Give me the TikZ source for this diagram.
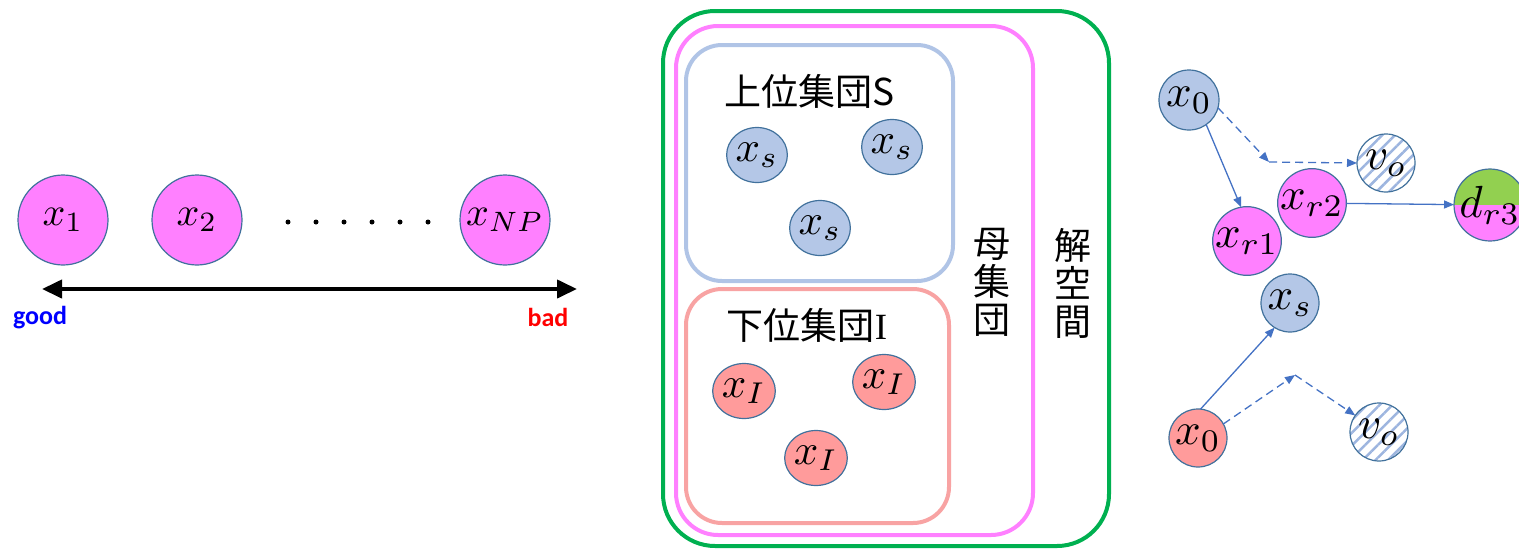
\documentclass[tikz,border=0pt]{standalone}
\usepackage{graphicx}
\usepackage{fontspec}
\newfontfamily\cjkfont{Noto Sans CJK JP}
\newfontfamily\tagfont{Carlito}
\newfontfamily\romanI{Liberation Serif}
\usetikzlibrary{arrows.meta,shapes.geometric,patterns.meta}
\definecolor{popfill}{HTML}{FF80FF}
\definecolor{supfill}{HTML}{B4C7E7}
\definecolor{inffill}{HTML}{FF9B9B}
\definecolor{rim}{HTML}{41719C}
\definecolor{spacegreen}{HTML}{00B050}
\definecolor{supframe}{HTML}{B0C4E6}
\definecolor{infframe}{HTML}{F8A3A3}
\definecolor{flow}{HTML}{4472C4}
\definecolor{hatch}{HTML}{9DB5DF}
\definecolor{trialgreen}{HTML}{92D050}
\definecolor{goodblue}{HTML}{0000FF}
\definecolor{badred}{HTML}{FF0000}
% large math labels inside the individuals
\newcommand{\biglab}[1]{\scalebox{4.0}{$#1$}}
\newcommand{\grplab}[1]{\scalebox{4.3}{$#1$}}
\newcommand{\oplab}[1]{\scalebox{4.5}{$#1$}}
\begin{document}
\begin{tikzpicture}[x=1pt,y=-1pt,
  ind/.style={circle,draw=rim,line width=1.2pt,inner sep=0pt,outer sep=0pt},
  big/.style={ind,minimum size=90pt,fill=popfill},
  small/.style={ellipse,draw=rim,line width=1.2pt,inner sep=0pt,outer sep=0pt,
    minimum width=60pt,minimum height=55pt},
  supind/.style={small,fill=supfill},
  infind/.style={small,fill=inffill},
  dot/.style={circle,fill=black,inner sep=0pt,minimum size=5pt},
  frame/.style={line width=4pt},
  cjk/.style={font=\cjkfont\fontsize{37}{38}\selectfont,align=center,inner sep=0pt},
  flowarrow/.style={draw=flow,line width=1.3pt,-{Triangle[length=10pt,width=8pt]}},
  trial/.style={flowarrow,dash pattern=on 8pt off 5pt},
  mutant/.style={circle,draw=rim,line width=1.2pt,inner sep=0pt,outer sep=0pt,
    minimum size=58pt},
  hatched/.style={mutant,pattern={Lines[angle=45,distance=9pt,line width=2.5pt]},pattern color=hatch},
  tag/.style={font=\tagfont\bfseries\fontsize{26}{30}\selectfont,inner sep=0pt}
]
\useasboundingbox (0,0) rectangle (1519,550);

% ---- population ranked from good to bad ----
\node[big] (p1) at (63,220) {\biglab{x_1}};
\node[big] (p2) at (197,220) {\biglab{x_2}};
\node[big] (pn) at (505,220) {\biglab{x_{NP}}};
\foreach \i in {0,...,5}
  \node[dot] (d\i) at (288+28*\i,222) {};
\coordinate (rankL) at (42,289);
\coordinate (rankR) at (577,289);
\draw[line width=4pt,{Triangle[length=20pt,width=18pt]}-{Triangle[length=20pt,width=18pt]}]
  (rankL) -- (rankR);
\node[tag,text=goodblue] (good) at (40,318) {good};
\node[tag,text=badred] (bad) at (548,317) {bad};

% ---- solution space, population, upper and lower groups ----
\draw[frame,draw=spacegreen,rounded corners=52pt] (663,11) rectangle (1109,546);
\draw[frame,draw=popfill,rounded corners=42pt] (676,26) rectangle (1033,535);
\draw[frame,draw=supframe,rounded corners=36pt] (686,45) rectangle (953,281);
\draw[frame,draw=infframe,rounded corners=36pt] (686,289) rectangle (949,523);

\node[cjk] (suplab) at (810,91) {上位集団S};
\node[cjk] (inflab) at (807,325) {下位集団{\romanI I}};
\node[cjk] (poplab) at (992,282) {母\\集\\団};
\node[cjk] (spacelab) at (1073,283) {解\\空\\間};

\node[supind] (s1) at (757,155) {\grplab{x_s}};
\node[supind] (s2) at (892,147) {\grplab{x_s}};
\node[supind] (s3) at (820,228) {\grplab{x_s}};
\node[infind] (i1) at (744,391) {\grplab{x_I}};
\node[infind] (i2) at (884,382) {\grplab{x_I}};
\node[infind] (i3) at (816,458) {\grplab{x_I}};

% ---- mutation from an upper-group base ----
\node[mutant,fill=supfill,minimum size=60pt] (u0) at (1189,100) {\oplab{x_0}};
\node[hatched] (uv) at (1386,163) {\oplab{v_o}};
\node[mutant,fill=popfill,minimum size=64pt] (r1) at (1247,241) {\oplab{x_{r1}}};
\node[mutant,fill=popfill,minimum size=66pt] (r2) at (1312,203) {\oplab{x_{r2}}};
\node[mutant,minimum size=68pt,
  path picture={
    \fill[trialgreen] (path picture bounding box.north west) rectangle (path picture bounding box.east);
    \fill[popfill] (path picture bounding box.west) rectangle (path picture bounding box.south east);
  }] (r3) at (1490,205) {\oplab{d_{r3}}};
\coordinate (k1) at (1269,162);
\draw[flowarrow] (u0.-55) -- (r1.100);
\draw[trial] (u0.-15) -- (k1);
\draw[trial] (k1) -- (uv.west);
\draw[flowarrow] (r2) -- (r3);

% ---- mutation from a lower-group base ----
\node[mutant,fill=supfill] (ls) at (1290,303) {\oplab{x_s}};
\node[mutant,fill=inffill] (l0) at (1198,438) {\oplab{x_0}};
\node[hatched] (lv) at (1379,432) {\oplab{v_o}};
\coordinate (k2) at (1295,375);
\draw[flowarrow] (l0.85) -- (ls.-122);
\draw[trial] (l0.29) -- (k2);
\draw[trial] (k2) -- (lv.145);
\end{tikzpicture}
\end{document}
